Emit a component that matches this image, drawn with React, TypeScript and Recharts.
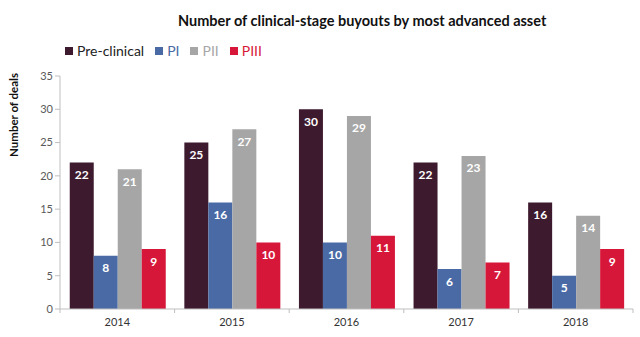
import React from 'react'
import {Bar, BarChart, LabelList, XAxis, YAxis} from 'recharts'

const years = ['2014', '2015', '2016', '2017', '2018']
const preClinical = [22, 25, 30, 22, 16]
const phase1 = [8, 16, 10, 6, 5]
const phase2 = [21, 27, 29, 23, 14]
const phase3 = [9, 10, 11, 7, 9]
const yTicks = [0, 5, 10, 15, 20, 25, 30, 35]

const series = [
    {key: 'pre', name: 'Pre-clinical', color: '#3d1a2e', text: '#222222'},
    {key: 'p1', name: 'PI', color: '#4a6aa5', text: '#4a6aa5'},
    {key: 'p2', name: 'PII', color: '#a6a6a6', text: '#a6a6a6'},
    {key: 'p3', name: 'PIII', color: '#d7173a', text: '#d7173a'},
]

const data = years.map((year, i) => ({
    year,
    pre: preClinical[i],
    p1: phase1[i],
    p2: phase2[i],
    p3: phase3[i],
}))

const font = 'Lato, "Open Sans", sans-serif'
const chartWidth = 640
const chartHeight = 337
const margin = {top: 76, right: 7, bottom: 0, left: 30}
const yAxisWidth = 30
const xAxisHeight = 28
const bandWidth = (chartWidth - margin.left - margin.right - yAxisWidth) / years.length

function XTick(props: any) {
    const {x, y, payload, index} = props
    const left = x - bandWidth / 2
    const right = x + bandWidth / 2
    return (
        <g>
            {index === 0 ? <line x1={left} x2={left} y1={y - 8} y2={y - 4} stroke="#bfbfbf"/> : null}
            <line x1={right} x2={right} y1={y - 8} y2={y - 4} stroke="#bfbfbf"/>
            <text x={x} y={y + 9} textAnchor="middle" fill="#333333" fontSize={11} fontFamily={font}>
                {payload.value}
            </text>
        </g>
    )
}

export default function App() {
    return (
        <div style={{position: 'absolute', left: 0, top: 0, width: chartWidth, height: chartHeight, background: '#ffffff', fontFamily: font}}>
            <div style={{position: 'absolute', top: 12, left: 178, fontSize: 14.5, fontWeight: 700, color: '#111111', whiteSpace: 'nowrap'}}>
                Number of clinical-stage buyouts by most advanced asset
            </div>
            <div style={{position: 'absolute', top: 42, left: 65, display: 'flex', gap: 11, fontSize: 14, whiteSpace: 'nowrap'}}>
                {series.map((s) => (
                    <div key={s.key} style={{display: 'flex', alignItems: 'center', color: s.text}}>
                        <span style={{display: 'inline-block', width: 8, height: 8, background: s.color, marginRight: 4}}/>
                        {s.name}
                    </div>
                ))}
            </div>
            <div style={{
                position: 'absolute', left: 13, top: 115, transform: 'translate(-50%, -50%) rotate(-90deg)',
                fontSize: 11.5, fontWeight: 700, color: '#111111', whiteSpace: 'nowrap',
            }}>
                Number of deals
            </div>
            <BarChart width={chartWidth} height={chartHeight} data={data} margin={margin}
                      barGap={0} barCategoryGap="8.5%">
                <XAxis dataKey="year" height={xAxisHeight} tick={<XTick/>} tickLine={false}
                       axisLine={{stroke: '#bfbfbf'}} interval={0}/>
                <YAxis domain={[0, 35]} ticks={yTicks} width={yAxisWidth} tickSize={5}
                       tick={{fill: '#595959', fontSize: 11, fontFamily: font}}
                       tickLine={{stroke: '#bfbfbf'}} axisLine={{stroke: '#bfbfbf'}}/>
                {series.map((s) => (
                    <Bar key={s.key} dataKey={s.key} name={s.name} fill={s.color} isAnimationActive={false}>
                        <LabelList dataKey={s.key} position="insideTop" offset={8} fill="#ffffff"
                                   fontSize={12} fontWeight={700} fontFamily={font}/>
                    </Bar>
                ))}
            </BarChart>
        </div>
    )
}
